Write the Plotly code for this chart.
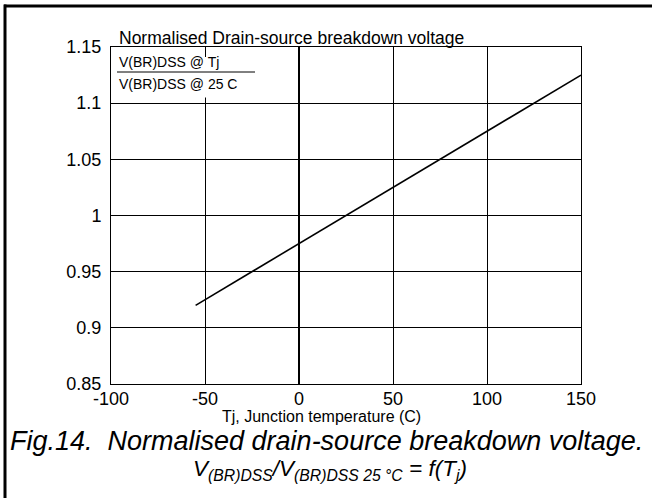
import plotly.graph_objects as go

# Data
tj = [-55, 150]
ratio = [0.92, 1.125]
x_ticks = [-100, -50, 0, 50, 100, 150]
x_labels = ["-100", "-50", "0", "50", "100", "150"]
y_ticks = [0.85, 0.9, 0.95, 1.0, 1.05, 1.1, 1.15]
y_labels = ["0.85", "0.9", "0.95", "1", "1.05", "1.1", "1.15"]

FONT = "Arial, Liberation Sans, sans-serif"

fig = go.Figure()
fig.add_trace(go.Scatter(x=tj, y=ratio, mode="lines",
                         line=dict(color="black", width=1.6),
                         showlegend=False, hoverinfo="skip"))

L, R, T, B = 111, 71, 47, 114
W, H = 652, 498
pw, ph = W - L - R, H - T - B

def px2paper_x(px):
    return (px - L) / pw

def px2paper_y(py):
    return (H - B - py) / ph

fig.update_layout(
    width=W, height=H,
    margin=dict(l=L, r=R, t=T, b=B),
    paper_bgcolor="white", plot_bgcolor="white",
    font=dict(family=FONT, size=15, color="black"),
    xaxis=dict(range=[-100, 150], tickvals=x_ticks, ticktext=x_labels,
               showgrid=True, gridcolor="black", gridwidth=1,
               showline=True, linecolor="black", linewidth=1, mirror=True,
               zeroline=True, zerolinecolor="black", zerolinewidth=2,
               ticks="", tickfont=dict(size=18), ticklabelstandoff=-2),
    yaxis=dict(range=[0.85, 1.15], tickvals=y_ticks, ticktext=y_labels,
               showgrid=True, gridcolor="black", gridwidth=1,
               showline=True, linecolor="black", linewidth=1, mirror=True,
               zeroline=False, ticks="", tickfont=dict(size=18), ticklabelstandoff=5),
)

shapes = []
# white box behind the ratio label
shapes.append(dict(type="rect", xref="x", yref="y", x0=-100, x1=-23.5, y0=1.105, y1=1.141,
                   fillcolor="white", line=dict(width=0), layer="above"))
# divider line of the ratio label
shapes.append(dict(type="line", xref="paper", yref="paper",
                   x0=px2paper_x(117), x1=px2paper_x(255),
                   y0=px2paper_y(72), y1=px2paper_y(72),
                   line=dict(color="black", width=1), layer="above"))
# outer frame (top & left)
shapes.append(dict(type="line", xref="paper", yref="paper",
                   x0=px2paper_x(4), x1=px2paper_x(652),
                   y0=px2paper_y(6), y1=px2paper_y(6),
                   line=dict(color="black", width=3), layer="above"))
shapes.append(dict(type="line", xref="paper", yref="paper",
                   x0=px2paper_x(5), x1=px2paper_x(5),
                   y0=px2paper_y(4.5), y1=px2paper_y(498),
                   line=dict(color="black", width=3), layer="above"))
fig.update_layout(shapes=shapes)

ann = []
ann.append(dict(text="Normalised Drain-source breakdown voltage", xref="paper", yref="paper",
                x=px2paper_x(117), y=px2paper_y(38), xanchor="left", yanchor="middle",
                showarrow=False, font=dict(size=17.5)))
ann.append(dict(text="V(BR)DSS @ Tj", xref="paper", yref="paper",
                x=px2paper_x(117), y=px2paper_y(62), xanchor="left", yanchor="middle",
                showarrow=False, font=dict(size=14)))
ann.append(dict(text="V(BR)DSS @ 25 C", xref="paper", yref="paper",
                x=px2paper_x(117), y=px2paper_y(84), xanchor="left", yanchor="middle",
                showarrow=False, font=dict(size=14)))
ann.append(dict(text="Tj, Junction temperature (C)", xref="paper", yref="paper",
                x=px2paper_x(321), y=px2paper_y(416), xanchor="center", yanchor="middle",
                showarrow=False, font=dict(size=16)))
ann.append(dict(text="<i>Fig.14.  Normalised drain-source breakdown voltage.</i>", xref="paper", yref="paper",
                x=px2paper_x(326), y=px2paper_y(441), xanchor="center", yanchor="middle",
                showarrow=False, font=dict(size=27)))
ann.append(dict(text="<i>V<sub>(BR)DSS</sub>/V<sub>(BR)DSS 25 °C</sub> = f(T<sub>j</sub>)</i>",
                xref="paper", yref="paper",
                x=px2paper_x(330), y=px2paper_y(470), xanchor="center", yanchor="middle",
                showarrow=False, font=dict(size=22.5)))
fig.update_layout(annotations=ann)

fig.write_html("out.html", config={"displayModeBar": False},
               post_script="document.body.style.margin='0px';document.body.style.overflow='hidden';")
